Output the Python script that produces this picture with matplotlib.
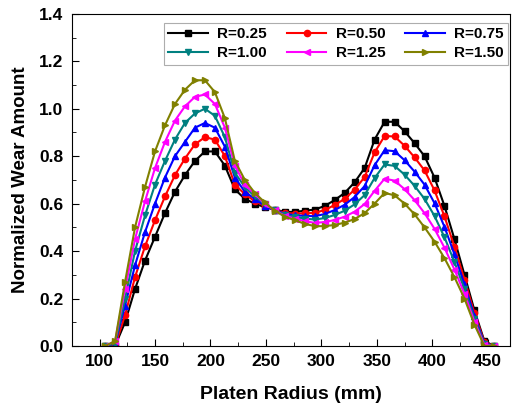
import matplotlib
matplotlib.use("Agg")
import matplotlib.pyplot as plt
from matplotlib.ticker import MultipleLocator

plt.rcParams['font.family'] = ['Liberation Sans', 'DejaVu Sans']
plt.rcParams['font.weight'] = 'bold'

radius = [105, 114, 123, 132, 141, 150, 159, 168, 177, 186,
          195, 204, 213, 222, 231, 240, 249, 258, 267, 276,
          285, 294, 303, 312, 321, 330, 339, 348, 357, 366,
          375, 384, 393, 402, 411, 420, 429, 438, 447, 456]

r025 = [0.00, 0.00, 0.10, 0.24, 0.36, 0.46, 0.56, 0.65, 0.72, 0.78,
        0.82, 0.82, 0.76, 0.66, 0.62, 0.60, 0.585, 0.575, 0.565, 0.565,
        0.57, 0.575, 0.59, 0.615, 0.645, 0.69, 0.75, 0.87, 0.945, 0.945,
        0.905, 0.855, 0.80, 0.71, 0.59, 0.45, 0.30, 0.15, 0.02, 0.00]
r050 = [0.00, 0.00, 0.13, 0.29, 0.42, 0.53, 0.63, 0.72, 0.79, 0.85,
        0.88, 0.87, 0.80, 0.68, 0.64, 0.61, 0.59, 0.574, 0.561, 0.558,
        0.559, 0.561, 0.573, 0.594, 0.62, 0.659, 0.712, 0.816, 0.885, 0.883,
        0.844, 0.795, 0.74, 0.656, 0.546, 0.418, 0.28, 0.138, 0.016, 0.00]
r075 = [0.00, 0.01, 0.17, 0.34, 0.48, 0.60, 0.71, 0.80, 0.86, 0.92,
        0.94, 0.92, 0.84, 0.71, 0.65, 0.62, 0.59, 0.573, 0.557, 0.551,
        0.548, 0.547, 0.556, 0.573, 0.595, 0.628, 0.674, 0.762, 0.825, 0.821,
        0.783, 0.735, 0.68, 0.602, 0.502, 0.386, 0.26, 0.126, 0.012, 0.00]
r100 = [0.00, 0.01, 0.20, 0.40, 0.55, 0.68, 0.78, 0.87, 0.94, 0.98,
        1.00, 0.97, 0.88, 0.73, 0.67, 0.63, 0.60, 0.572, 0.553, 0.544,
        0.537, 0.533, 0.539, 0.552, 0.57, 0.597, 0.636, 0.708, 0.765, 0.759,
        0.722, 0.675, 0.62, 0.548, 0.458, 0.354, 0.24, 0.114, 0.008, 0.00]
r125 = [0.00, 0.02, 0.24, 0.45, 0.61, 0.75, 0.86, 0.95, 1.01, 1.05,
        1.06, 1.02, 0.92, 0.76, 0.68, 0.64, 0.60, 0.571, 0.549, 0.537,
        0.526, 0.519, 0.522, 0.531, 0.545, 0.566, 0.598, 0.654, 0.705, 0.697,
        0.661, 0.615, 0.56, 0.494, 0.414, 0.322, 0.22, 0.102, 0.004, 0.00]
r150 = [0.00, 0.02, 0.27, 0.50, 0.67, 0.82, 0.93, 1.02, 1.08, 1.12,
        1.12, 1.07, 0.96, 0.78, 0.70, 0.645, 0.605, 0.57, 0.545, 0.53,
        0.515, 0.505, 0.505, 0.51, 0.52, 0.535, 0.56, 0.60, 0.645, 0.635,
        0.60, 0.555, 0.50, 0.44, 0.37, 0.29, 0.20, 0.09, 0.00, 0.00]

labels = ["R=0.25", "R=0.50", "R=0.75", "R=1.00", "R=1.25", "R=1.50"]
series = [r025, r050, r075, r100, r125, r150]
colors = ["black", "red", "blue", "#008080", "magenta", "#808000"]
markers = ["s", "o", "^", "v", "<", ">"]

fig = plt.figure(figsize=(5.13, 4.07), dpi=100)
ax = fig.add_axes([0.140, 0.150, 0.854, 0.816])

lines = []
for vals, lab, c, m in zip(series, labels, colors, markers):
    ln, = ax.plot(radius, vals, color=c, marker=m, markersize=4.5, linewidth=1.5, label=lab)
    lines.append(ln)

ax.set_xlim(75, 470)
ax.set_ylim(0, 1.4)
ax.xaxis.set_major_locator(MultipleLocator(50))
ax.xaxis.set_minor_locator(MultipleLocator(25))
ax.yaxis.set_major_locator(MultipleLocator(0.2))
ax.yaxis.set_minor_locator(MultipleLocator(0.1))
ax.yaxis.set_major_formatter(lambda v, p: f"{v:.1f}")
ax.tick_params(which="both", direction="in", top=False, right=False, labelsize=12.5, pad=6)
ax.tick_params(which="major", length=5)
ax.tick_params(which="minor", length=3)

ax.set_xlabel("Platen Radius (mm)", fontsize=14, fontweight="bold", labelpad=12)
ax.set_ylabel("Normalized Wear Amount", fontsize=13.5, fontweight="bold", labelpad=7)

# legend filled row by row
order = [0, 3, 1, 4, 2, 5]
leg = ax.legend([lines[i] for i in order], [labels[i] for i in order],
                ncol=3, loc="upper right", bbox_to_anchor=(0.996, 0.973), borderaxespad=0,
                fontsize=11, fancybox=False, edgecolor="#999999", handlelength=2.6,
                columnspacing=1.3, handletextpad=0.6, borderpad=0.3, labelspacing=0.3)
leg.get_frame().set_linewidth(0.8)

fig.savefig("out.png", dpi=100)
